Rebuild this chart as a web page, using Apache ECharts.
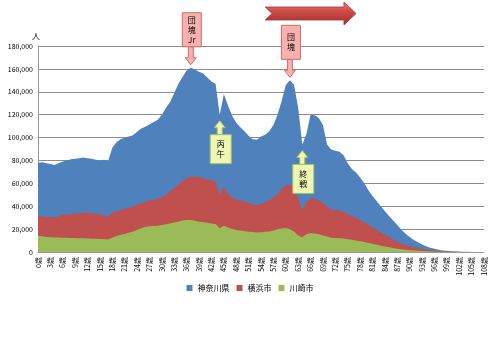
<!DOCTYPE html>
<html><head><meta charset="utf-8">
<script src="https://cdn.jsdelivr.net/npm/echarts@6/dist/echarts.min.js"></script>
<style>html,body{margin:0;padding:0;background:#fff}#c{width:500px;height:340px}</style>
</head><body><div id="c"></div>
<script>
const ages = [0,1,2,3,4,5,6,7,8,9,10,11,12,13,14,15,16,17,18,19,20,21,22,23,24,25,26,27,28,29,30,31,32,33,34,35,36,37,38,39,40,41,42,43,44,45,46,47,48,49,50,51,52,53,54,55,56,57,58,59,60,61,62,63,64,65,66,67,68,69,70,71,72,73,74,75,76,77,78,79,80,81,82,83,84,85,86,87,88,89,90,91,92,93,94,95,96,97,98,99,100,101,102,103,104,105,106,107,108];
const seriesNames = ['神奈川県','横浜市','川崎市'];
const kanagawa = [78000,78500,77500,77000,76000,77500,79000,80000,81000,81500,82000,82500,82000,81500,80500,80000,80500,79500,
 91000,96000,98500,100000,101000,102000,105000,108000,109500,111500,113500,115500,120000,126000,131000,139000,147000,153000,158500,161000,159500,157500,
 156000,152500,149000,147000,120000,138000,128000,119000,113000,109000,105500,101500,98500,98000,101000,102500,105500,111000,120000,132000,
 146000,150000,146000,126000,94000,103000,120000,119500,117000,111000,94000,89500,88500,87500,84500,77500,72500,69500,65000,60000,
 54000,49000,44500,40000,35500,31500,27500,23500,19500,16000,13000,10500,8500,6500,5000,3800,2800,2000,1400,1000,
 700,450,300,200,120,80,50,30,20];
const yokohama = [31500,31000,30500,30300,30500,31000,32500,33000,33300,33500,33800,34200,34400,34000,33500,33000,32000,31000,
 34000,35500,36500,38000,38500,40000,41500,42500,44000,45000,45500,46500,48000,50000,53000,56000,59000,62000,64500,66000,66000,65500,
 64500,63500,62500,61500,50000,57000,51000,47500,46000,45000,44000,43000,41500,41000,42000,43500,45000,47500,50500,55000,
 58000,59000,55000,47000,37000,44000,47000,46500,45000,43000,39500,37000,36500,36500,35000,33000,31500,30000,28000,26000,
 23500,21500,19500,17000,15000,13000,11000,9000,7500,6200,5000,4100,3300,2600,2000,1500,1100,800,550,400,
 280,180,120,80,50,30,20,10,10];
const kawasaki = [14300,13800,13200,12800,12700,12600,12500,12500,12300,12200,12000,12000,11800,11600,11500,11400,11200,11000,
 12500,14000,15000,15700,16800,18000,19500,20800,22000,22500,22700,23000,23500,24200,25000,25800,26500,27500,28000,28000,27200,26500,
 26000,25500,25000,24500,20700,23000,21500,20200,19300,18700,18200,17800,17500,17000,17200,17600,18000,18800,19800,20500,
 21000,19800,18000,14500,12800,15500,16300,16200,15500,14500,13500,12500,12200,12000,11700,11200,10600,10000,9400,8700,
 7800,7100,6300,5500,4800,4100,3500,2900,2400,2000,1600,1300,1000,800,600,450,330,240,170,120,
 80,50,30,20,10,10,5,5,5];
const yTicks = [0,20000,40000,60000,80000,100000,120000,140000,160000,180000];
const notes = [
  {text:'団\n塊\nJr', age:37, dir:'down', kind:'pink'},
  {text:'団\n塊', age:61, dir:'down', kind:'pink'},
  {text:'丙\n午', age:44, dir:'up', kind:'green'},
  {text:'終\n戦', age:64, dir:'up', kind:'green'}
];
const colors = ['#4F81BD','#C0504D','#9BBB59'];
const font = '"Noto Sans CJK JP","Noto Sans",sans-serif';

const chart = echarts.init(document.getElementById('c'), null, {renderer:'canvas'});
const mk = (name, data, i) => ({
  name, type:'line', data, symbol:'none', smooth:false,
  lineStyle:{width:0}, itemStyle:{color:colors[i]},
  areaStyle:{color:colors[i], opacity:1}
});
chart.setOption({
  animation:false,
  textStyle:{fontFamily:font},
  grid:{left:38, right:16, top:46, bottom:88},
  legend:{bottom:43, left:'center', icon:'rect', itemWidth:6, itemHeight:6, itemGap:7,
    textStyle:{fontSize:8, color:'#000', fontFamily:font}, data:seriesNames},
  xAxis:{type:'category', data:ages.map(a=>a+'歳'), boundaryGap:false,
    axisLine:{lineStyle:{color:'#999'}}, axisTick:{show:false},
    axisLabel:{interval:2, rotate:90, fontSize:7, color:'#000', margin:5, fontFamily:font}},
  yAxis:{type:'value', min:yTicks[0], max:yTicks[yTicks.length-1], interval:yTicks[1]-yTicks[0],
    name:'人', nameLocation:'end', nameGap:6, nameTextStyle:{fontSize:8, color:'#000', align:'right', padding:[0,-2,0,0]},
    axisLine:{show:true, lineStyle:{color:'#999'}}, axisTick:{show:false},
    splitLine:{lineStyle:{color:'#8c8c8c', width:1}},
    axisLabel:{fontSize:7, color:'#000', margin:5, formatter:v=>v.toLocaleString('en-US')}},
  series:[mk(seriesNames[0],kanagawa,0), mk(seriesNames[1],yokohama,1), mk(seriesNames[2],kawasaki,2)]
});

// annotations anchored to data
const g = [];
notes.forEach(n=>{
  const p = chart.convertToPixel({gridIndex:0}, [n.age, kanagawa[n.age]]);
  const tx = p[0];
  const pink = n.kind==='pink';
  const fill = pink ? '#F7B2B0' : '#EEF6B4';
  const stroke = pink ? '#D46A68' : '#A6C160';
  const headW = 11, headH = 7, stemW = 5;
  let bw, bh, tip, boxY, pts;
  if (n.dir==='down') {
    tip = p[1]-3; bw = 19; bh = 34;
    const boxBottom = tip-18; boxY = boxBottom-bh;
    pts = [[tx,tip],[tx-headW/2,tip-headH],[tx-stemW/2,tip-headH],[tx-stemW/2,boxBottom],[tx+stemW/2,boxBottom],[tx+stemW/2,tip-headH],[tx+headW/2,tip-headH]];
  } else {
    tip = p[1]+6; bw = 21; bh = 29;
    const boxTop = tip+14; boxY = boxTop;
    pts = [[tx,tip],[tx-headW/2,tip+headH],[tx-stemW/2,tip+headH],[tx-stemW/2,boxTop],[tx+stemW/2,boxTop],[tx+stemW/2,tip+headH],[tx+headW/2,tip+headH]];
  }
  g.push({type:'polygon', shape:{points:pts}, style:{fill:fill, stroke:stroke, lineWidth:1}, z:100});
  g.push({type:'rect', shape:{x:tx-bw/2+1, y:boxY, width:bw, height:bh}, style:{fill:fill, stroke:stroke, lineWidth:1}, z:101});
  g.push({type:'text', x:tx+1, y:boxY+bh/2, style:{text:n.text, fill:'#000', font:'8px '+font, align:'center', verticalAlign:'middle', lineHeight:10}, z:102});
});
// red chevron arrow at top
const a0 = chart.convertToPixel({gridIndex:0}, [55, 0])[0];
const a1 = chart.convertToPixel({gridIndex:0}, [77, 0])[0];
const hx = a1-12;
g.push({type:'polygon', shape:{points:[[a0,7],[hx,7],[hx,2],[a1,13.5],[hx,25],[hx,20],[a0,20],[a0+7,13.5]]},
  style:{fill:new echarts.graphic.LinearGradient(0,0,0,1,[{offset:0,color:'#E98A86'},{offset:0.35,color:'#D2504C'},{offset:1,color:'#9E2B28'}]),
  stroke:'#A33532', lineWidth:0.8}, z:100});
chart.setOption({graphic:g});
</script></body></html>
